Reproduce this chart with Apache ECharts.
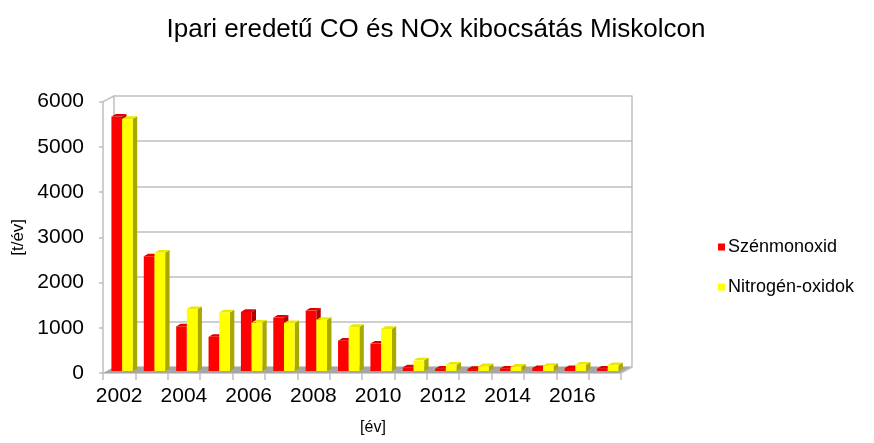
<!DOCTYPE html>
<html>
<head>
<meta charset="utf-8">
<script src="https://cdn.jsdelivr.net/npm/echarts@6/dist/echarts.min.js"></script>
<style>
  html, body { margin: 0; padding: 0; background: #fff; }
  #main { width: 874px; height: 443px; }
</style>
</head>
<body>
<div id="main"></div>
<script>
var years = ['2002', '2003', '2004', '2005', '2006', '2007', '2008', '2009',
  '2010', '2011', '2012', '2013', '2014', '2015', '2016', '2017'];
var szenmonoxid = [5670, 2580, 1030, 800, 1350, 1225, 1380, 715,
  650, 125, 95, 90, 100, 110, 110, 95];
var nitrogenOxidok = [5620, 2660, 1415, 1340, 1115, 1105, 1175, 1020,
  975, 280, 185, 150, 140, 160, 185, 175];
var yTicks = [0, 1000, 2000, 3000, 4000, 5000, 6000];

var chart = echarts.init(document.getElementById('main'));

// 3D-looking column: front face, darker side, top face
function makeRender(slot, front, side, top) {
  return function (params, api) {
    var idx = api.value(0);
    var val = api.value(1);
    var base = api.coord([idx, 0]);
    var tip = api.coord([idx, val]);
    var band = api.size([1, 0])[0];
    var w = band * 0.33;
    var x0 = base[0] - band / 2 + band * 0.26 + slot * w;
    var x1 = x0 + w;
    var y0 = base[1] - 2;
    var y1 = tip[1];
    var dx = 4.4, dy = 2.6;
    return {
      type: 'group',
      children: [
        { type: 'polygon', shape: { points: [[x1, y0], [x1 + dx, y0 - dy], [x1 + dx, y1 - dy], [x1, y1]] },
          style: { fill: side } },
        { type: 'polygon', shape: { points: [[x0, y1], [x1, y1], [x1 + dx, y1 - dy], [x0 + dx, y1 - dy]] },
          style: { fill: top } },
        { type: 'rect', shape: { x: x0, y: y1, width: w, height: y0 - y1 },
          style: { fill: front } }
      ]
    };
  };
}

function seriesData(arr) {
  return arr.map(function (v, i) { return [i, v]; });
}

var option = {
  backgroundColor: '#ffffff',
  animation: false,
  color: ['#ff0000', '#ffff00'],
  title: {
    text: 'Ipari eredetű CO és NOx kibocsátás Miskolcon',
    left: 431,
    textAlign: 'center',
    top: 12,
    textStyle: { fontFamily: 'Liberation Sans', fontSize: 26, fontWeight: 'normal', color: '#000' }
  },
  legend: {
    orient: 'vertical',
    left: 713,
    top: 233,
    itemGap: 22,
    itemWidth: 7,
    itemHeight: 7,
    icon: 'rect',
    textStyle: { fontFamily: 'Liberation Sans', fontSize: 18, color: '#000', padding: [0, 0, 0, -2] },
    data: [
      { name: 'Szénmonoxid', itemStyle: { color: '#ff0000' } },
      { name: 'Nitrogén-oxidok', itemStyle: { color: '#ffff00' } }
    ]
  },
  grid: [
    { left: 103, right: 253, top: 101.7, bottom: 70 },
    { left: 114, right: 242, top: 96, bottom: 76 }
  ],
  xAxis: [
    {
      type: 'category', gridIndex: 0, data: years,
      name: '[év]', nameLocation: 'middle', nameGap: 47,
      nameTextStyle: { fontFamily: 'Liberation Sans', fontSize: 16, color: '#000', padding: [0, 0, 0, 22] },
      axisLine: { lineStyle: { color: '#bfbfbf', width: 1.5 } },
      axisTick: { show: true, length: 7, interval: 0, lineStyle: { color: '#bfbfbf', width: 1.5 } },
      axisLabel: { interval: 1, margin: 13, fontFamily: 'Liberation Sans', fontSize: 21, color: '#000' }
    },
    {
      type: 'category', gridIndex: 1, data: years, show: false
    }
  ],
  yAxis: [
    {
      type: 'value', gridIndex: 0, min: 0, max: 6000, interval: 1000,
      name: '[t/év]', nameLocation: 'middle', nameGap: 75, nameRotate: 90,
      nameTextStyle: { fontFamily: 'Liberation Sans', fontSize: 17, color: '#000' },
      axisLine: { show: true, lineStyle: { color: '#bfbfbf', width: 1.5 } },
      axisTick: { show: true, length: 4, lineStyle: { color: '#bfbfbf', width: 1.5 } },
      splitLine: { show: false },
      axisLabel: {
        margin: 19, fontFamily: 'Liberation Sans', fontSize: 21, color: '#000',
        formatter: function (v) { return yTicks.indexOf(v) >= 0 ? String(v) : ''; }
      }
    },
    {
      type: 'value', gridIndex: 1, min: 0, max: 6000, interval: 1000,
      axisLine: { show: true, lineStyle: { color: '#bfbfbf', width: 1.5 } },
      axisTick: { show: false }, axisLabel: { show: false },
      splitLine: { show: true, lineStyle: { color: '#bfbfbf', width: 1.5 } }
    },
    {
      type: 'value', gridIndex: 1, min: 0, max: 6000, interval: 1000, position: 'right',
      axisLine: { show: true, lineStyle: { color: '#bfbfbf', width: 1.5 } },
      axisTick: { show: false }, axisLabel: { show: false }, splitLine: { show: false }
    }
  ],
  graphic: [
    { type: 'polygon', z: 1, shape: { points: [[103, 373], [621, 373], [632, 367], [114, 367]] },
      style: { fill: '#a6a6a6' } },
    { type: 'line', z: 1, shape: { x1: 103, y1: 101.7, x2: 114, y2: 96 },
      style: { stroke: '#bfbfbf', lineWidth: 1.5 } },
    { type: 'line', z: 1, shape: { x1: 621, y1: 373, x2: 632, y2: 367 },
      style: { stroke: '#bfbfbf', lineWidth: 1.5 } }
  ],
  series: [
    {
      name: 'Szénmonoxid', type: 'custom', xAxisIndex: 0, yAxisIndex: 0, z: 3,
      renderItem: makeRender(0, '#ff0000', '#b00000', '#e00000'),
      encode: { x: 0, y: 1 },
      data: seriesData(szenmonoxid)
    },
    {
      name: 'Nitrogén-oxidok', type: 'custom', xAxisIndex: 0, yAxisIndex: 0, z: 4,
      renderItem: makeRender(1, '#ffff00', '#a8a800', '#e8e800'),
      encode: { x: 0, y: 1 },
      data: seriesData(nitrogenOxidok)
    }
  ]
};

chart.setOption(option);
</script>
</body>
</html>
